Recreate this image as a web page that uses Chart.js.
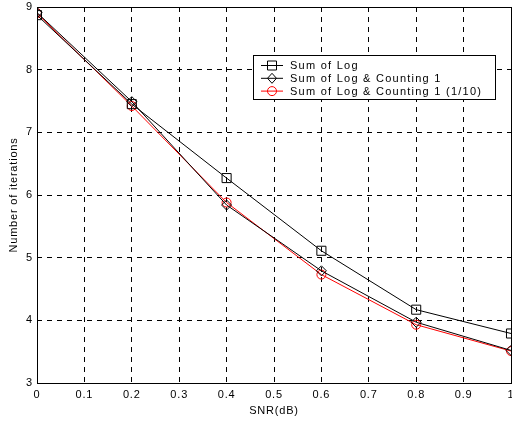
<!DOCTYPE html>
<html>
<head>
<meta charset="utf-8">
<script src="https://cdn.jsdelivr.net/npm/chart.js@4/dist/chart.umd.min.js"></script>
<style>
    html, body { margin: 0; padding: 0; background: #fff; }
    #wrap { width: 512px; height: 423px; }
</style>
</head>
<body>
<div id="wrap"><canvas id="canvas" width="512" height="423"></canvas></div>
<script>
// chart values
const snr = [0, 0.2, 0.4, 0.6, 0.8, 1.0];
const sumOfLog = [8.87, 7.45, 6.27, 5.11, 4.17, 3.79];
const counting1 = [8.91, 7.49, 5.84, 4.79, 3.97, 3.52];
const counting1Tenth = [8.90, 7.42, 5.88, 4.73, 3.93, 3.51];

const seriesNames = ['Sum of Log', 'Sum of Log & Counting 1', 'Sum of Log & Counting 1 (1/10)'];
const xTickLabels = ['0', '0.1', '0.2', '0.3', '0.4', '0.5', '0.6', '0.7', '0.8', '0.9', '1'];
const yTickLabels = ['3', '4', '5', '6', '7', '8', '9'];

const FONT = '"Liberation Sans", Arial, Helvetica, sans-serif';

function toPoints(ys) {
    return snr.map((x, i) => ({x: x, y: ys[i]}));
}

function makeDataset(label, ys, color, style, radius) {
    return {
        label: label,
        data: toPoints(ys),
        borderColor: color,
        borderWidth: 1,
        backgroundColor: 'rgba(0,0,0,0)',
        pointStyle: style,
        pointRadius: radius,
        pointBorderColor: color,
        pointBorderWidth: 1,
        pointBackgroundColor: 'rgba(0,0,0,0)',
        tension: 0
    };
}

// marker for the legend box
function drawMarker(ctx, style, x, y) {
    ctx.beginPath();
    if(style == 'rect') {
        ctx.rect(x - 4.5, y - 4.5, 9, 9);
    } else if(style == 'rectRot') {
        ctx.moveTo(x, y - 5);
        ctx.lineTo(x + 4.5, y);
        ctx.lineTo(x, y + 5);
        ctx.lineTo(x - 4.5, y);
        ctx.closePath();
    } else {
        ctx.arc(x, y, 4.5, 0, Math.PI * 2);
    }
    ctx.stroke();
}

// the reference text is a bit wider than plain Arial
const spacingPlugin = {
    id: 'spacing',
    beforeDraw(chart) {
        chart.ctx.letterSpacing = '0.8px';
    }
};

const framePlugin = {
    id: 'frame',
    afterDraw(chart) {
        const ctx = chart.ctx;
        const a = chart.chartArea;
        ctx.save();
        ctx.strokeStyle = '#000';
        ctx.lineWidth = 1;
        ctx.setLineDash([]);
        ctx.strokeRect(Math.round(a.left) + 0.5, Math.round(a.top) + 0.5,
            Math.round(a.right - a.left), Math.round(a.bottom - a.top));

        // legend box
        const bx = 253, by = 55, bw = 242, bh = 44;
        ctx.fillStyle = '#fff';
        ctx.fillRect(bx, by, bw, bh);
        ctx.strokeRect(bx + 0.5, by + 0.5, bw, bh);
        ctx.font = '11px ' + FONT;
        ctx.letterSpacing = '1.25px';
        ctx.textBaseline = 'middle';
        chart.data.datasets.forEach((ds, i) => {
            const y = 65.5 + i * 12.8;
            ctx.strokeStyle = ds.borderColor;
            ctx.beginPath();
            ctx.moveTo(261, y);
            ctx.lineTo(283, y);
            ctx.stroke();
            drawMarker(ctx, ds.pointStyle, 272, y);
            ctx.fillStyle = '#000';
            ctx.fillText(ds.label, 290, y + 0.5);
        });
        ctx.restore();
    }
};

const data = {
    datasets: [
        makeDataset(seriesNames[0], sumOfLog, '#000000', 'rect', 6.4),
        makeDataset(seriesNames[1], counting1, '#000000', 'rectRot', 5),
        makeDataset(seriesNames[2], counting1Tenth, '#ff0000', 'circle', 4.5)
    ]
};

const options = {
    animation: false,
    responsive: false,
    layout: {
        autoPadding: false,
        padding: {top: 7, right: 1, bottom: 0, left: 0}
    },
    plugins: {
        legend: {display: false},
        tooltip: {enabled: false}
    },
    scales: {
        x: {
            type: 'linear',
            min: 0,
            max: 1,
            ticks: {
                stepSize: 0.1,
                color: '#000',
                font: {family: FONT, size: 11},
                padding: 5,
                maxRotation: 0,
                autoSkip: false,
                callback: (v, i) => xTickLabels[i]
            },
            grid: {
                color: '#000',
                lineWidth: 1,
                drawTicks: false
            },
            border: {display: false, dash: [5, 5]},
            title: {
                display: true,
                text: 'SNR(dB)',
                color: '#000',
                font: {family: FONT, size: 11},
                padding: {top: 0, bottom: 5.4}
            },
            afterFit(scale) {
                scale.height = 40;
                scale.paddingRight = 0;
                scale.paddingLeft = 0;
            }
        },
        y: {
            type: 'linear',
            min: 3,
            max: 9,
            ticks: {
                stepSize: 1,
                color: '#000',
                font: {family: FONT, size: 11},
                padding: 4,
                callback: (v, i) => yTickLabels[i]
            },
            grid: {
                color: '#000',
                lineWidth: 1,
                drawTicks: false
            },
            border: {display: false, dash: [5, 5]},
            title: {
                display: true,
                text: 'Number of iterations',
                color: '#000',
                font: {family: FONT, size: 11},
                padding: {top: 7.8, bottom: 0}
            },
            afterFit(scale) {
                scale.width = 37;
                scale.paddingTop = 0;
                scale.paddingBottom = 0;
            }
        }
    }
};

const ctx = document.getElementById('canvas').getContext('2d');
window.chart = new Chart(ctx, {
    type: 'line',
    data: data,
    options: options,
    plugins: [spacingPlugin, framePlugin]
});
</script>
</body>
</html>
